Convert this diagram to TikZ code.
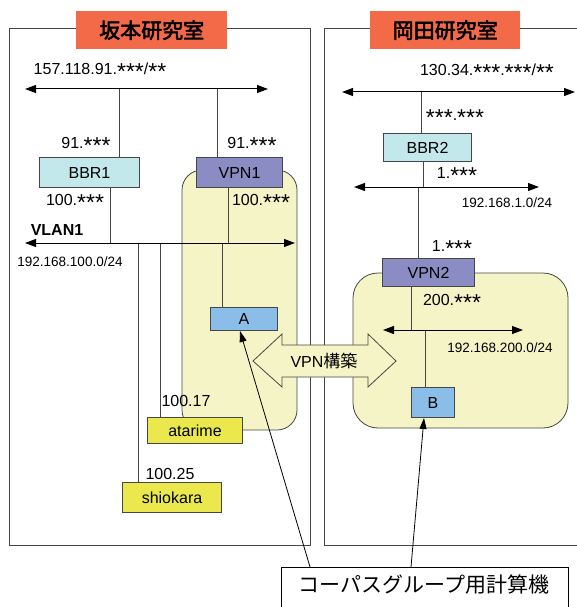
\documentclass[tikz,border=0pt]{standalone}
\usepackage{fontspec}
\setmainfont{Liberation Sans}
\newfontfamily\jp{Noto Sans CJK JP}
\newfontfamily\jpb[FakeBold=2.5]{Noto Sans CJK JP}
\usetikzlibrary{arrows.meta}
\newcommand\sk{\raisebox{-5pt}{\fontsize{23}{23}\selectfont *}}
\definecolor{titleor}{RGB}{242,106,72}
\definecolor{bbrc}{RGB}{194,232,236}
\definecolor{vpnc}{RGB}{140,140,196}
\definecolor{pcc}{RGB}{138,190,232}
\definecolor{hostc}{RGB}{234,232,76}
\definecolor{regc}{RGB}{244,244,198}
\definecolor{linec}{RGB}{70,70,70}
\tikzset{
  dev/.style={draw=linec, line width=1pt, anchor=north west, inner sep=0pt,
    font=\fontsize{16}{18}\selectfont},
  lbl/.style={inner sep=0pt, font=\fontsize{16}{18}\selectfont},
  net/.style={inner sep=0pt, font=\fontsize{13.5}{15}\selectfont},
  room/.style={draw=linec, line width=1pt},
  region/.style={draw=linec, line width=0.8pt, fill=regc},
  bus/.style={draw=black, line width=1pt, {Triangle[length=11pt,width=8pt]}-{Triangle[length=11pt,width=8pt]}},
  drop/.style={draw=linec, line width=1pt},
  title/.style={fill=titleor, inner sep=0pt, anchor=north west,
    font=\jpb\fontsize{21}{23}\selectfont},
  callarrow/.style={draw=black, line width=0.8pt, -{Triangle[length=11pt,width=7pt]}}
}
\begin{document}
\begin{tikzpicture}[x=1pt,y=-1pt]
\useasboundingbox (0,0) rectangle (577,607);
% rooms
\draw[room] (9,29) rectangle (310,545);
\draw[room] (580,29) -- (324,29) -- (324,545) -- (580,545);
% titles
\node[title, minimum width=151pt, minimum height=38pt] (t1) at (76,11) {坂本研究室};
\node[title, minimum width=150pt, minimum height=38pt] (t2) at (370,11) {岡田研究室};
% yellow regions
\draw[region, rounded corners=20pt] (182,170) rectangle (297,430);
\draw[region, rounded corners=25pt] (353,273) rectangle (568,428);
% bus coordinates
\coordinate (b1L) at (25,89);  \coordinate (b1R) at (268,89);
\coordinate (b2L) at (25,243); \coordinate (b2R) at (295,243);
\coordinate (b3L) at (342,92); \coordinate (b3R) at (575,92);
\coordinate (b4L) at (354,187); \coordinate (b4R) at (539,187);
\coordinate (b5L) at (383,330); \coordinate (b5R) at (523,330);
% taps
\coordinate (p1) at (119,89);  \coordinate (p2) at (217,89);
\coordinate (p3) at (110,243); \coordinate (p4) at (228,243);
\coordinate (p5) at (138,243); \coordinate (p6) at (160,243); \coordinate (p7) at (222,243);
\coordinate (p8) at (421,92);  \coordinate (p9) at (423,187); \coordinate (p10) at (418,187);
\coordinate (p11) at (411,330); \coordinate (p12) at (425,330);
% devices
\node[dev, fill=bbrc, minimum width=100pt, minimum height=30pt] (bbr1) at (39,157) {BBR1};
\node[dev, fill=vpnc, minimum width=86pt, minimum height=30pt] (vpn1) at (196,157) {VPN1};
\node[dev, fill=pcc, minimum width=67pt, minimum height=23pt] (a) at (210,307) {A};
\node[dev, fill=hostc, minimum width=95pt, minimum height=26pt] (atarime) at (147,417) {atarime};
\node[dev, fill=hostc, minimum width=99pt, minimum height=30pt] (shiokara) at (122,482) {shiokara};
\node[dev, fill=bbrc, minimum width=88pt, minimum height=28pt] (bbr2) at (383,133) {BBR2};
\node[dev, fill=vpnc, minimum width=92pt, minimum height=28pt] (vpn2) at (382,258) {VPN2};
\node[dev, fill=pcc, minimum width=43pt, minimum height=30pt] (b) at (411,387) {B};
% drops
\draw[drop] (p1) -- (p1 |- bbr1.north);
\draw[drop] (p2) -- (p2 |- vpn1.north);
\draw[drop] (p3 |- bbr1.south) -- (p3);
\draw[drop] (p4 |- vpn1.south) -- (p4);
\draw[drop] (p5) -- (p5 |- shiokara.north);
\draw[drop] (p6) -- (p6 |- atarime.north);
\draw[drop] (p7) -- (p7 |- a.north);
\draw[drop] (p8) -- (p8 |- bbr2.north);
\draw[drop] (p9 |- bbr2.south) -- (p9);
\draw[drop] (p10) -- (p10 |- vpn2.north);
\draw[drop] (p11 |- vpn2.south) -- (p11);
\draw[drop] (p12) -- (p12 |- b.north);
% buses
\draw[bus] (b1L) -- (b1R);
\draw[bus] (b2L) -- (b2R);
\draw[bus] (b3L) -- (b3R);
\draw[bus] (b4L) -- (b4R);
\draw[bus] (b5L) -- (b5R);
% labels
\node[lbl] (l1) at (100,71) {157.118.91.\sk\sk\sk/\sk\sk};
\node[lbl] (l2) at (86,145) {91.\sk\sk\sk};
\node[lbl] (l3) at (252,145) {91.\sk\sk\sk};
\node[lbl] (l4) at (75,202) {100.\sk\sk\sk};
\node[lbl] (l5) at (261,202) {100.\sk\sk\sk};
\node[lbl, font=\bfseries\fontsize{16}{18}\selectfont] (l6) at (57,230) {VLAN1};
\node[net] (l7) at (70,262) {192.168.100.0/24};
\node[lbl] (l8) at (487,72) {130.34.\sk\sk\sk.\sk\sk\sk/\sk\sk};
\node[lbl] (l9) at (455,118) {\sk\sk\sk.\sk\sk\sk};
\node[lbl] (l10) at (457,175) {1.\sk\sk\sk};
\node[net] (l11) at (507,203) {192.168.1.0/24};
\node[lbl] (l12) at (452,248) {1.\sk\sk\sk};
\node[lbl] (l13) at (452,302) {200.\sk\sk\sk};
\node[net] (l14) at (500,348) {192.168.200.0/24};
\node[lbl] (l15) at (186,401) {100.17};
\node[lbl] (l16) at (170,474) {100.25};
% VPN arrow
\draw[fill=regc, draw=linec, line width=0.8pt] (253,361) -- (282,334) -- (282,345) -- (368,345) -- (368,334)
  -- (396,361) -- (368,387) -- (368,377) -- (282,377) -- (282,387) -- cycle;
\node[lbl] (vpnt) at (324,361) {VPN{\jp\fontsize{17}{18}\selectfont 構築}};
% callout
\node[draw=black, line width=0.8pt, fill=white, anchor=north west, inner sep=0pt,
  minimum width=287pt, minimum height=46pt] (calc) at (281,567) {};
\node[inner sep=0pt, font=\jp\fontsize{21}{23}\selectfont] (calct) at (424,585) {コーパスグループ用計算機};
\coordinate (c1) at (310,567); \coordinate (c2) at (411,567);
\draw[callarrow] (c1) -- (a.south -| 240,0);
\draw[callarrow] (c2) -- (b.south -| 424,0);
\end{tikzpicture}
\end{document}
